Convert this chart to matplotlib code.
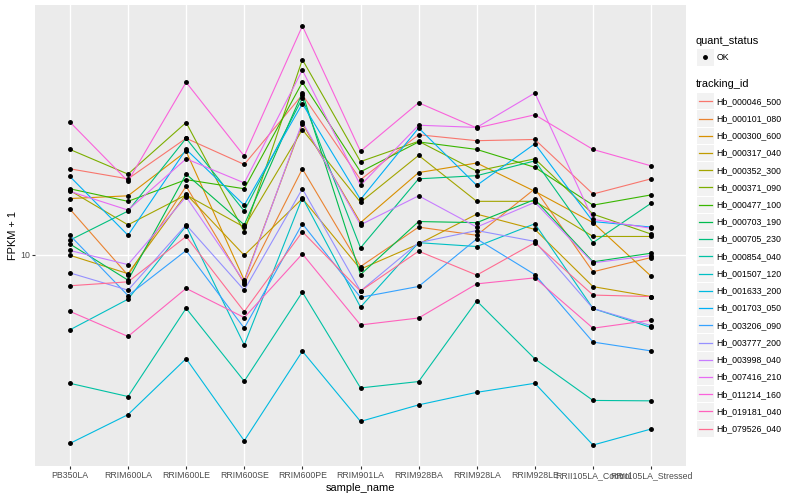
import matplotlib
matplotlib.use('Agg')
import matplotlib.pyplot as plt
import numpy as np
from matplotlib.patches import Rectangle
from matplotlib.lines import Line2D
from matplotlib.ticker import FixedLocator, NullLocator

plt.rcParams['font.family'] = ['Liberation Sans', 'DejaVu Sans']

samples = ['PB350LA', 'RRIM600LA', 'RRIM600LE', 'RRIM600SE', 'RRIM600PE',
           'RRIM901LA', 'RRIM928BA', 'RRIM928LA', 'RRIM928LE',
           'RRII105LA_Control', 'RRII105LA_Stressed']

tracking_ids = ['Hb_000046_500', 'Hb_000101_080', 'Hb_000300_600', 'Hb_000317_040',
                'Hb_000352_300', 'Hb_000371_090', 'Hb_000477_100', 'Hb_000703_190',
                'Hb_000705_230', 'Hb_000854_040', 'Hb_001507_120', 'Hb_001633_200',
                'Hb_001703_050', 'Hb_003206_090', 'Hb_003777_200', 'Hb_003998_040',
                'Hb_007416_210', 'Hb_011214_160', 'Hb_019181_040', 'Hb_079526_040']

colors = ['#F8766D', '#EA8331', '#D89000', '#C09B00', '#A3A500', '#7CAE00',
          '#39B600', '#00BB4E', '#00BF7D', '#00C1A3', '#00BFC4', '#00BAE0',
          '#00B0F6', '#35A2FF', '#9590FF', '#C77CFF', '#E76BF3', '#FA62DB',
          '#FF62BC', '#FF6C91']

# FPKM + 1 per sample (order of `samples`)
Hb_000046_500 = [18.6, 17.3, 23.2, 19.2, 31.8, 17.2, 23.8, 22.8, 23.0, 15.5, 17.3]
Hb_000101_080 = [13.9, 8.61, 16.4, 8.11, 18.6, 9.17, 12.2, 11.5, 16.1, 8.83, 9.79]
Hb_000300_600 = [15.0, 15.3, 21.1, 8.31, 25.8, 12.6, 18.1, 19.4, 15.8, 12.6, 8.55]
Hb_000317_040 = [9.95, 8.71, 15.5, 9.95, 15.0, 9.0, 10.8, 13.4, 12.0, 7.93, 7.38]
Hb_000352_300 = [15.9, 12.4, 15.4, 12.2, 24.7, 14.6, 20.5, 14.7, 14.7, 11.4, 11.4]
Hb_000371_090 = [21.4, 17.9, 26.0, 11.8, 41.0, 19.6, 22.7, 18.3, 20.0, 13.4, 11.6]
Hb_000477_100 = [16.1, 14.7, 17.2, 16.1, 34.8, 18.2, 22.6, 21.4, 18.8, 14.3, 15.4]
Hb_000703_190 = [10.8, 8.31, 17.9, 12.4, 32.2, 8.65, 12.7, 12.6, 14.9, 9.49, 10.1]
Hb_000705_230 = [11.1, 13.7, 23.2, 13.7, 31.0, 10.5, 17.3, 17.7, 19.7, 10.9, 14.5]
Hb_000854_040 = [3.94, 3.58, 6.78, 4.0, 7.62, 3.81, 3.99, 7.15, 4.70, 3.48, 3.47]
Hb_001507_120 = [5.80, 7.24, 12.3, 5.20, 15.1, 6.84, 10.9, 10.6, 12.5, 6.77, 5.90]
Hb_001633_200 = [2.55, 3.14, 4.71, 2.60, 4.97, 2.99, 3.37, 3.69, 3.94, 2.52, 2.83]
Hb_001703_050 = [17.6, 11.5, 21.4, 14.3, 29.8, 14.9, 25.0, 16.5, 22.3, 12.7, 12.2]
Hb_003206_090 = [11.5, 7.43, 10.3, 5.87, 12.5, 7.34, 7.94, 11.2, 8.65, 5.31, 4.98]
Hb_003777_200 = [8.76, 7.73, 12.4, 7.73, 16.1, 7.68, 10.9, 11.9, 11.0, 6.77, 5.98]
Hb_003998_040 = [10.3, 9.30, 15.2, 8.21, 26.1, 12.4, 15.3, 12.2, 14.6, 9.42, 9.93]
Hb_007416_210 = [15.8, 13.8, 20.0, 16.8, 38.0, 16.5, 25.5, 25.1, 32.2, 12.9, 12.1]
Hb_011214_160 = [26.1, 17.0, 34.8, 20.4, 52.3, 21.1, 30.0, 25.0, 27.5, 21.4, 19.0]
Hb_019181_040 = [6.63, 5.53, 7.83, 6.34, 10.05, 6.01, 6.32, 8.09, 8.45, 5.87, 6.22]
Hb_079526_040 = [7.98, 8.21, 11.4, 6.62, 11.8, 7.68, 10.25, 8.62, 10.9, 7.46, 7.38]

series = [Hb_000046_500, Hb_000101_080, Hb_000300_600, Hb_000317_040, Hb_000352_300,
          Hb_000371_090, Hb_000477_100, Hb_000703_190, Hb_000705_230, Hb_000854_040,
          Hb_001507_120, Hb_001633_200, Hb_001703_050, Hb_003206_090, Hb_003777_200,
          Hb_003998_040, Hb_007416_210, Hb_011214_160, Hb_019181_040, Hb_079526_040]

W, H = 800, 500
fig = plt.figure(figsize=(8, 5), dpi=100)
fig.patch.set_facecolor('white')
ax = fig.add_axes([35 / W, 34 / H, 651 / W, 461 / H])
ax.set_facecolor('#EBEBEB')
for s in ax.spines.values():
    s.set_visible(False)

x = np.arange(len(samples))
for vals, c in zip(series, colors):
    ax.plot(x, vals, color=c, lw=0.8, zorder=3, solid_capstyle='butt')
for vals in series:
    ax.plot(x, vals, linestyle='none', marker='o', markersize=2.5,
            color='black', zorder=4)

ax.set_yscale('log')
allv = np.concatenate([np.array(v) for v in series])
lo, hi = np.log10(allv.min()), np.log10(allv.max())
pad = 0.05 * (hi - lo)
ax.set_ylim(10 ** (lo - pad), 10 ** (hi + pad))
ax.set_xlim(-0.6, len(samples) - 0.4)

ax.yaxis.set_major_locator(FixedLocator([10]))
ax.yaxis.set_minor_locator(NullLocator())
ax.set_yticklabels(['10'])
ax.set_xticks(x)
ax.set_xticklabels(samples)
ax.grid(True, color='white', lw=1.0, zorder=1)
ax.set_axisbelow(True)
ax.tick_params(axis='both', length=2.0, width=0.8, color='#333333',
               labelcolor='#4D4D4D', labelsize=6.3, pad=1.8)

ax.set_xlabel('sample_name', fontsize=7.9, labelpad=2)
ax.set_ylabel('FPKM + 1', fontsize=7.9, labelpad=1.5)


def fx(px):
    return px / W


def fy(py):
    return 1 - py / H


# Legend: quant_status
fig.text(fx(696), fy(40.7), 'quant_status', fontsize=7.9, va='center', ha='left')
fig.patches.append(Rectangle((fx(697), fy(65.5)), 16.5 / W, 16.5 / H,
                             transform=fig.transFigure, facecolor='#F2F2F2',
                             edgecolor='none'))
fig.lines.append(Line2D([fx(705)], [fy(57.3)], transform=fig.transFigure,
                        marker='o', markersize=2.5, color='black', linestyle='none'))
fig.text(fx(716.5), fy(57.3), 'OK', fontsize=6.3, va='center', ha='left')

# Legend: tracking_id
fig.text(fx(696), fy(84.3), 'tracking_id', fontsize=7.9, va='center', ha='left')
y0, dy = 101.3, 17.23
for i, (name, c) in enumerate(zip(tracking_ids, colors)):
    yc = y0 + i * dy
    fig.patches.append(Rectangle((fx(697), fy(yc + 8.1)), 16.5 / W, 16.2 / H,
                                 transform=fig.transFigure, facecolor='#F2F2F2',
                                 edgecolor='none'))
    fig.lines.append(Line2D([fx(698.5), fx(712)], [fy(yc), fy(yc)],
                            transform=fig.transFigure, color=c, lw=0.9))
    fig.text(fx(716.5), fy(yc), name, fontsize=6.3, va='center', ha='left')

fig.savefig('out.png', dpi=100)
